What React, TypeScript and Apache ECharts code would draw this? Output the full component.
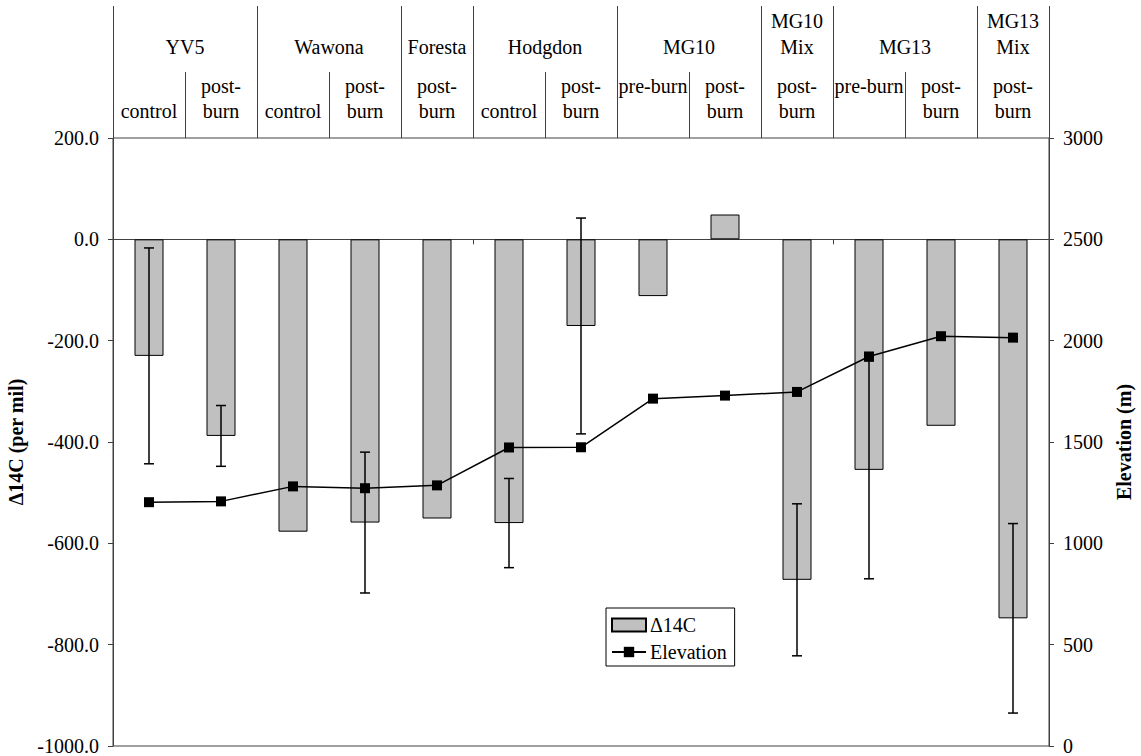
import React, { useEffect, useRef } from "react";
import * as echarts from "echarts";

// ---- data ----
const categories = ["YV5 control", "YV5 post-burn", "Wawona control", "Wawona post-burn", "Foresta post-burn", "Hodgdon control", "Hodgdon post-burn", "MG10 pre-burn", "MG10 post-burn", "MG10 Mix post-burn", "MG13 pre-burn", "MG13 post-burn", "MG13 Mix post-burn"];
const subTop = ["", "post-", "", "post-", "post-", "", "post-", "pre-burn", "post-", "post-", "pre-burn", "post-", "post-"];
const subBottom = ["control", "burn", "control", "burn", "burn", "control", "burn", "", "burn", "burn", "", "burn", "burn"];
const groupNames = ["YV5", "Wawona", "Foresta", "Hodgdon", "MG10", "MG10\nMix", "MG13", "MG13\nMix"];
const groupSpans = [2, 2, 1, 2, 2, 1, 2, 1];
const d14c = [-230, -388, -577, -559, -551, -560, -171, -112, 49, -672, -455, -368, -748];
const d14cErr = [213, 60, 0, 139, 0, 88, 213, 0, 0, 150, 215, 0, 187];
const elevation = [1203, 1207, 1281, 1272, 1286, 1473, 1474, 1714, 1729, 1747, 1922, 2022, 2015];
const leftTicks = { min: -1000, max: 200, interval: 200 };
const rightTicks = { min: 0, max: 3000, interval: 500 };

const FONT = '"Liberation Serif", "Times New Roman", serif';
const AXIS_COLOR = "#404040";

export default function App() {
  const ref = useRef<HTMLDivElement>(null);

  useEffect(() => {
    if (!ref.current) return;
    const chart = echarts.init(ref.current, null, { renderer: "svg" });
    const halfTicks = categories.flatMap((c) => [c + " a", c + " b"]);
    const errData = categories.map((_, i) => [i, d14c[i], d14cErr[i]]);

    const option: any = {
      animation: false,
      backgroundColor: "#fff",
      textStyle: { fontFamily: FONT },
      grid: { left: 113, right: 92, top: 138, bottom: 10, outerBoundsMode: "none", containLabel: false, show: true, borderColor: AXIS_COLOR, borderWidth: 1, backgroundColor: "transparent" },
      legend: {
        left: 606,
        top: 608,
        orient: "vertical",
        backgroundColor: "#fff",
        borderColor: "#000",
        borderWidth: 1,
        padding: [7, 8, 4, 5],
        itemGap: 7,
        itemWidth: 34,
        itemHeight: 13,
        textStyle: { fontFamily: FONT, fontSize: 20, color: "#000", padding: [0, 0, 0, -1] },
        data: [{ name: "Δ14C", icon: "rect" }, { name: "Elevation" }],
      },
      xAxis: [
        { type: "category", data: categories, show: false, position: "top", gridIndex: 0 },
        {
          type: "category",
          data: halfTicks,
          position: "bottom",
          gridIndex: 0,
          axisLine: { show: true, onZero: true, onZeroAxisIndex: 0, lineStyle: { color: AXIS_COLOR, width: 1 } },
          axisTick: { show: true, length: 5, lineStyle: { color: AXIS_COLOR } },
          axisLabel: { show: false },
          splitLine: { show: false },
        },
      ],
      yAxis: [
        {
          type: "value",
          ...leftTicks,
          position: "left",
          name: "Δ14C (per mil)",
          nameLocation: "middle",
          nameGap: 83,
          nameTextStyle: { fontFamily: FONT, fontSize: 20, fontWeight: "bold", color: "#000" },
          axisLine: { show: true, lineStyle: { color: AXIS_COLOR } },
          axisTick: { show: true, length: 5, lineStyle: { color: AXIS_COLOR } },
          axisLabel: { margin: 14, fontFamily: FONT, fontSize: 20, lineHeight: 16, color: "#000", formatter: (v: number) => v.toFixed(1) },
          splitLine: { show: false },
        },
        {
          type: "value",
          ...rightTicks,
          position: "right",
          name: "Elevation (m)",
          nameLocation: "middle",
          nameGap: 52,
          nameTextStyle: { fontFamily: FONT, fontSize: 20, fontWeight: "bold", color: "#000" },
          axisLine: { show: true, lineStyle: { color: AXIS_COLOR } },
          axisTick: { show: true, length: 5, lineStyle: { color: AXIS_COLOR } },
          axisLabel: { margin: 14, fontFamily: FONT, fontSize: 20, lineHeight: 16, color: "#000", formatter: (v: number) => String(v) },
          splitLine: { show: false },
        },
      ],
      series: [
        {
          name: "Δ14C",
          type: "bar",
          xAxisIndex: 0,
          yAxisIndex: 0,
          data: d14c,
          barWidth: 29,
          itemStyle: { color: "#C0C0C0", borderColor: "#000", borderWidth: 1 },
          z: 2,
        },
        {
          name: "err",
          type: "custom",
          xAxisIndex: 0,
          yAxisIndex: 0,
          data: errData,
          encode: { x: 0, y: 1 },
          z: 3,
          renderItem: (params: any, api: any) => {
            const i = api.value(0);
            const v = api.value(1);
            const e = api.value(2);
            if (!e) return null;
            const top = api.coord([i, v + e]);
            const bot = api.coord([i, v - e]);
            const h = 5;
            const st = { stroke: "#000", lineWidth: 1.5 };
            return {
              type: "group",
              children: [
                { type: "line", shape: { x1: top[0], y1: top[1], x2: bot[0], y2: bot[1] }, style: st },
                { type: "line", shape: { x1: top[0] - h, y1: top[1], x2: top[0] + h, y2: top[1] }, style: st },
                { type: "line", shape: { x1: bot[0] - h, y1: bot[1], x2: bot[0] + h, y2: bot[1] }, style: st },
              ],
            };
          },
        },
        {
          name: "Elevation",
          type: "line",
          xAxisIndex: 0,
          yAxisIndex: 1,
          data: elevation,
          symbol: "rect",
          symbolSize: 10,
          color: "#000",
          lineStyle: { color: "#000", width: 1.5 },
          itemStyle: { color: "#000" },
          z: 5,
        },
      ],
    };
    chart.setOption(option);

    // header (multi-level category labels) positioned through the category scale
    const c0 = chart.convertToPixel({ xAxisIndex: 0 }, 0) as number;
    const c1 = chart.convertToPixel({ xAxisIndex: 0 }, 1) as number;
    const band = c1 - c0;
    const left = c0 - band / 2;
    const plotTop = chart.convertToPixel({ yAxisIndex: 0 }, leftTicks.max) as number;
    const lineStyle = { stroke: AXIS_COLOR, lineWidth: 1 };
    const textStyle = (text: string) => ({ text, fontFamily: FONT, fontSize: 20, fill: "#000", align: "center", verticalAlign: "middle" });
    const graphics: any[] = [];

    let start = 0;
    const groupBounds = [0];
    groupSpans.forEach((s, gi) => {
      const cx = left + band * (start + s / 2);
      const lines = groupNames[gi].split("\n");
      lines.forEach((t, li) => {
        const y = 47 - (lines.length - 1 - li) * 26;
        graphics.push({ type: "text", x: cx, y, style: textStyle(t), silent: true });
      });
      start += s;
      groupBounds.push(start);
    });
    groupBounds.forEach((b) => {
      const x = Math.round(left + band * b) + 0.5;
      graphics.push({ type: "line", shape: { x1: x, y1: 6, x2: x, y2: plotTop }, style: lineStyle, silent: true });
    });
    for (let b = 1; b < categories.length; b++) {
      if (groupBounds.includes(b)) continue;
      const x = Math.round(left + band * b) + 0.5;
      graphics.push({ type: "line", shape: { x1: x, y1: 72, x2: x, y2: plotTop }, style: lineStyle, silent: true });
    }
    categories.forEach((_, i) => {
      const cx = left + band * (i + 0.5);
      if (subTop[i]) graphics.push({ type: "text", x: cx, y: 86, style: textStyle(subTop[i]), silent: true });
      if (subBottom[i]) graphics.push({ type: "text", x: cx, y: 111, style: textStyle(subBottom[i]), silent: true });
    });
    chart.setOption({ graphic: graphics });

    return () => chart.dispose();
  }, []);

  return <div ref={ref} style={{ position: "fixed", left: 0, top: 0, width: 1141, height: 756, background: "#fff" }} />;
}
